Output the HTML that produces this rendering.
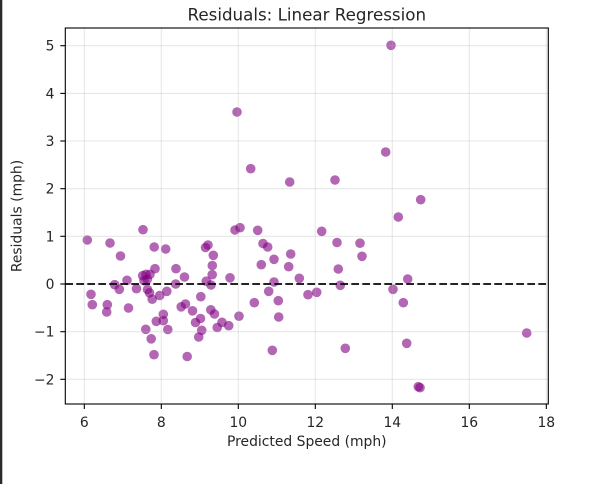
<!DOCTYPE html>
<html><head><meta charset="utf-8"><style>
html,body{margin:0;padding:0;background:#fff;}
svg{display:block;}
text{font-family:"DejaVu Sans","Liberation Sans",sans-serif;fill:#262626;}
</style></head><body>
<svg width="608" height="484" viewBox="0 0 608 484" xmlns="http://www.w3.org/2000/svg">
<rect x="0" y="0" width="608" height="484" fill="#fff"/>
<rect x="0" y="0" width="2.3" height="484" fill="#2b2b2b"/>
<text x="306.8" y="20.5" font-size="16.7" text-anchor="middle" fill="#000">Residuals: Linear Regression</text>
<g fill="#800080" fill-opacity="0.6">
<circle cx="237" cy="112" r="4.8"/><circle cx="250.7" cy="168.7" r="4.8"/><circle cx="289.7" cy="182" r="4.8"/>
<circle cx="87.3" cy="240" r="4.8"/><circle cx="110" cy="243" r="4.8"/><circle cx="143" cy="229.7" r="4.8"/>
<circle cx="154.2" cy="247" r="4.8"/><circle cx="165.7" cy="249" r="4.8"/><circle cx="205.5" cy="247.5" r="4.8"/>
<circle cx="208" cy="245" r="4.8"/><circle cx="235" cy="230" r="4.8"/><circle cx="240" cy="227.7" r="4.8"/>
<circle cx="257.7" cy="230.3" r="4.8"/><circle cx="263" cy="243.5" r="4.8"/><circle cx="267.7" cy="247" r="4.8"/>
<circle cx="391" cy="45.3" r="4.8"/><circle cx="385.7" cy="152" r="4.8"/><circle cx="335" cy="180" r="4.8"/>
<circle cx="420.7" cy="199.7" r="4.8"/><circle cx="398.3" cy="217" r="4.8"/><circle cx="321.7" cy="231.3" r="4.8"/>
<circle cx="337" cy="242.5" r="4.8"/><circle cx="360" cy="243.2" r="4.8"/><circle cx="120.5" cy="256" r="4.8"/>
<circle cx="213.3" cy="255.3" r="4.8"/><circle cx="274" cy="259.3" r="4.8"/><circle cx="290.7" cy="254" r="4.8"/>
<circle cx="261.3" cy="264.7" r="4.8"/><circle cx="288.7" cy="266.7" r="4.8"/><circle cx="212.3" cy="265.5" r="4.8"/>
<circle cx="176" cy="268.7" r="4.8"/><circle cx="155" cy="268.7" r="4.8"/><circle cx="127" cy="280.3" r="4.8"/>
<circle cx="142.7" cy="275.7" r="4.8"/><circle cx="146" cy="274.3" r="4.8"/><circle cx="150" cy="274.3" r="4.8"/>
<circle cx="147.3" cy="279.3" r="4.8"/><circle cx="144" cy="280.7" r="4.8"/><circle cx="184.5" cy="277" r="4.8"/>
<circle cx="212.2" cy="274.7" r="4.8"/><circle cx="230" cy="277.8" r="4.8"/><circle cx="206.3" cy="281.2" r="4.8"/>
<circle cx="299.3" cy="278.3" r="4.8"/><circle cx="114.7" cy="284.7" r="4.8"/><circle cx="119.3" cy="289.3" r="4.8"/>
<circle cx="136.5" cy="288.7" r="4.8"/><circle cx="147.5" cy="289.5" r="4.8"/><circle cx="149.5" cy="292.8" r="4.8"/>
<circle cx="152.2" cy="299.2" r="4.8"/><circle cx="175.7" cy="284" r="4.8"/><circle cx="211" cy="285" r="4.8"/>
<circle cx="274" cy="282" r="4.8"/><circle cx="166.8" cy="291.3" r="4.8"/><circle cx="159.7" cy="295.5" r="4.8"/>
<circle cx="200.8" cy="296.7" r="4.8"/><circle cx="268.7" cy="291.3" r="4.8"/><circle cx="278.3" cy="300.7" r="4.8"/>
<circle cx="254.3" cy="302.7" r="4.8"/><circle cx="91" cy="294.3" r="4.8"/><circle cx="92.3" cy="304.7" r="4.8"/>
<circle cx="107.3" cy="304.7" r="4.8"/><circle cx="106.7" cy="312" r="4.8"/><circle cx="128.5" cy="308" r="4.8"/>
<circle cx="181.2" cy="306.8" r="4.8"/><circle cx="185.5" cy="304" r="4.8"/><circle cx="192.5" cy="310.8" r="4.8"/>
<circle cx="210.8" cy="309.8" r="4.8"/><circle cx="214.5" cy="314" r="4.8"/><circle cx="163.3" cy="314.3" r="4.8"/>
<circle cx="156.3" cy="321.3" r="4.8"/><circle cx="163.3" cy="320.7" r="4.8"/><circle cx="167.8" cy="329.5" r="4.8"/>
<circle cx="145.8" cy="329.3" r="4.8"/><circle cx="195.5" cy="322.5" r="4.8"/><circle cx="200.5" cy="318.5" r="4.8"/>
<circle cx="201.7" cy="330.3" r="4.8"/><circle cx="198.7" cy="337" r="4.8"/><circle cx="217.2" cy="327.5" r="4.8"/>
<circle cx="222" cy="322.3" r="4.8"/><circle cx="228.7" cy="325.7" r="4.8"/><circle cx="239" cy="316.2" r="4.8"/>
<circle cx="278.7" cy="317" r="4.8"/><circle cx="151.2" cy="338.8" r="4.8"/><circle cx="154" cy="354.7" r="4.8"/>
<circle cx="187.2" cy="356.5" r="4.8"/><circle cx="272.3" cy="350.3" r="4.8"/><circle cx="362" cy="256.3" r="4.8"/>
<circle cx="338.3" cy="269" r="4.8"/><circle cx="407.7" cy="279" r="4.8"/><circle cx="340.3" cy="285.3" r="4.8"/>
<circle cx="308" cy="294.7" r="4.8"/><circle cx="316.7" cy="292.3" r="4.8"/><circle cx="393" cy="289.3" r="4.8"/>
<circle cx="403.3" cy="302.7" r="4.8"/><circle cx="526.7" cy="333" r="4.8"/><circle cx="406.7" cy="343.3" r="4.8"/>
<circle cx="345.3" cy="348.3" r="4.8"/><circle cx="418.3" cy="386.7" r="4.8"/><circle cx="420" cy="387.7" r="4.8"/>
</g>
<g stroke="#b0b0b0" stroke-opacity="0.3" stroke-width="1.1">
<line x1="84.3" y1="28" x2="84.3" y2="404"/><line x1="161.3" y1="28" x2="161.3" y2="404"/>
<line x1="238.3" y1="28" x2="238.3" y2="404"/><line x1="315.3" y1="28" x2="315.3" y2="404"/>
<line x1="392.3" y1="28" x2="392.3" y2="404"/><line x1="469.3" y1="28" x2="469.3" y2="404"/>
<line x1="546.3" y1="28" x2="546.3" y2="404"/>
<line x1="65.3" y1="45.7" x2="548.3" y2="45.7"/><line x1="65.3" y1="93.4" x2="548.3" y2="93.4"/>
<line x1="65.3" y1="141" x2="548.3" y2="141"/><line x1="65.3" y1="188.7" x2="548.3" y2="188.7"/>
<line x1="65.3" y1="236.3" x2="548.3" y2="236.3"/><line x1="65.3" y1="284" x2="548.3" y2="284"/>
<line x1="65.3" y1="331.7" x2="548.3" y2="331.7"/><line x1="65.3" y1="379.3" x2="548.3" y2="379.3"/>
</g>
<line x1="65.3" y1="284" x2="548.3" y2="284" stroke="#000" stroke-opacity="0.85" stroke-width="2.08" stroke-dasharray="7.7 3.3"/>
<rect x="65.3" y="28" width="483" height="376" fill="none" stroke="#000" stroke-width="1.1"/>
<g stroke="#000" stroke-width="1.1">
<line x1="84.3" y1="404" x2="84.3" y2="409"/><line x1="161.3" y1="404" x2="161.3" y2="409"/>
<line x1="238.3" y1="404" x2="238.3" y2="409"/><line x1="315.3" y1="404" x2="315.3" y2="409"/>
<line x1="392.3" y1="404" x2="392.3" y2="409"/><line x1="469.3" y1="404" x2="469.3" y2="409"/>
<line x1="546.3" y1="404" x2="546.3" y2="409"/>
<line x1="60.3" y1="45.7" x2="65.3" y2="45.7"/><line x1="60.3" y1="93.4" x2="65.3" y2="93.4"/>
<line x1="60.3" y1="141" x2="65.3" y2="141"/><line x1="60.3" y1="188.7" x2="65.3" y2="188.7"/>
<line x1="60.3" y1="236.3" x2="65.3" y2="236.3"/><line x1="60.3" y1="284" x2="65.3" y2="284"/>
<line x1="60.3" y1="331.7" x2="65.3" y2="331.7"/><line x1="60.3" y1="379.3" x2="65.3" y2="379.3"/>
</g>
<g font-size="13.9" text-anchor="middle">
<text x="84.3" y="427">6</text><text x="161.3" y="427">8</text><text x="238.3" y="427">10</text>
<text x="315.3" y="427">12</text><text x="392.3" y="427">14</text><text x="469.3" y="427">16</text>
<text x="546.3" y="427">18</text>
</g>
<g font-size="13.9" text-anchor="end">
<text x="54.5" y="50.7">5</text><text x="54.5" y="98.4">4</text><text x="54.5" y="146">3</text>
<text x="54.5" y="193.7">2</text><text x="54.5" y="241.3">1</text><text x="54.5" y="289">0</text>
<text x="54.5" y="336.7">−1</text><text x="54.5" y="384.3">−2</text>
</g>
<text x="306.8" y="446" font-size="13.9" text-anchor="middle">Predicted Speed (mph)</text>
<text transform="translate(21.5,216) rotate(-90)" font-size="13.9" text-anchor="middle">Residuals (mph)</text>
</svg>
</body></html>
